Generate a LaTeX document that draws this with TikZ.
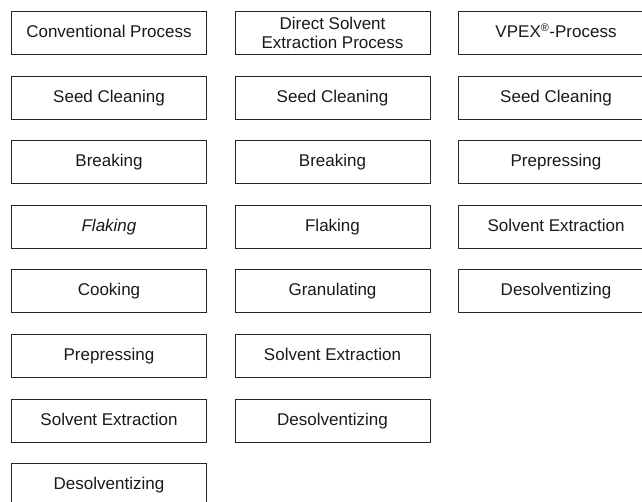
\documentclass[tikz,border=0pt]{standalone}
\usepackage{fontspec}
\setmainfont{Liberation Sans}
\usetikzlibrary{positioning}
\tikzset{
    stage/.style={
        draw=black!85, line width=0.9pt,
        minimum width=195pt, minimum height=43pt,
        inner sep=0pt, align=center, text=black!90,
        text height=12.5pt, text depth=3.5pt,
        font=\fontsize{17}{19}\selectfont
    }
}

\begin{document}
\begin{tikzpicture}[x=1pt, y=-1pt]
    \useasboundingbox (0,0) rectangle (642,502);
    \clip (0,0) rectangle (642,502);
    % conventional process
    \node[stage] (conv) at (109, 33) {Conventional Process};
    \node[stage] (convSeed) at (109, 97.6) {Seed Cleaning};
    \node[stage] (convBreak) at (109, 162.2) {Breaking};
    \node[stage] (convFlake) at (109, 226.8) {\itshape Flaking};
    \node[stage] (convCook) at (109, 291.4) {Cooking};
    \node[stage] (convPress) at (109, 356) {Prepressing};
    \node[stage] (convExtr) at (109, 420.6) {Solvent Extraction};
    \node[stage] (convDesolv) at (109, 485.2) {Desolventizing};
    % direct solvent extraction
    \node[stage, text height=, text depth=] (direct) at (332.5, 33) {Direct Solvent\\Extraction Process};
    \node[stage] (directSeed) at (332.5, 97.6) {Seed Cleaning};
    \node[stage] (directBreak) at (332.5, 162.2) {Breaking};
    \node[stage] (directFlake) at (332.5, 226.8) {Flaking};
    \node[stage] (directGran) at (332.5, 291.4) {Granulating};
    \node[stage] (directExtr) at (332.5, 356) {Solvent Extraction};
    \node[stage] (directDesolv) at (332.5, 420.6) {Desolventizing};
    % vpex
    \node[stage] (vpex) at (556, 33) {VPEX\textsuperscript{\fontsize{11}{11}\selectfont ®}-Process};
    \node[stage] (vpexSeed) at (556, 97.6) {Seed Cleaning};
    \node[stage] (vpexPress) at (556, 162.2) {Prepressing};
    \node[stage] (vpexExtr) at (556, 226.8) {Solvent Extraction};
    \node[stage] (vpexDesolv) at (556, 291.4) {Desolventizing};
\end{tikzpicture}
\end{document}
